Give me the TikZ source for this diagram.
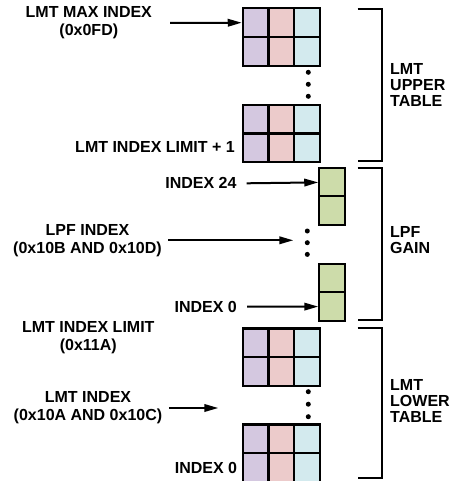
\documentclass[tikz,border=0pt]{standalone}
\usepackage{fontspec}
\setmainfont{Liberation Sans}
\usetikzlibrary{arrows.meta}

\definecolor{lmtpurple}{RGB}{212,200,224}
\definecolor{lmtpink}{RGB}{236,203,203}
\definecolor{lmtcyan}{RGB}{211,234,238}
\definecolor{lpfgreen}{RGB}{205,220,170}

\tikzset{
  cell/.style={draw, line width=2.2pt, minimum width=25.7pt, minimum height=28.6pt, inner sep=0pt},
  lbl/.style={font=\fontsize{16}{18}\selectfont\bfseries, align=center, inner sep=0pt},
  tbl/.style={font=\fontsize{16}{16}\selectfont\bfseries, align=left, inner sep=0pt, anchor=west},
  ptr/.style={line width=2pt, -{Triangle[length=14pt,width=7.5pt]}},
  brk/.style={line width=2pt},
  dotmark/.style={circle, fill, inner sep=0pt, minimum size=5pt}
}

% one LMT block: name, top edge
\newcommand{\lmtblock}[2]{%
  \foreach \cx/\clr [count=\i] in {255.7/lmtpurple,281.5/lmtpink,307.2/lmtcyan}{
    \node[cell, fill=\clr] (#1-\i-1) at (\cx,{#2+14.3}) {};
    \node[cell, fill=\clr] (#1-\i-2) at (\cx,{#2+43}) {};
  }}
% one LPF block: name, top edge
\newcommand{\lpfblock}[2]{%
  \node[cell, fill=lpfgreen] (#1-1) at (332.2,{#2+14}) {};
  \node[cell, fill=lpfgreen] (#1-2) at (332.2,{#2+42}) {};}
% three dots: name, x, first y, step
\newcommand{\vdotsat}[4]{%
  \foreach \k in {0,1,2}
    \node[dotmark] (#1-\k) at (#2,{#3+\k*#4}) {};}

\begin{document}
\begin{tikzpicture}[x=1pt,y=-1pt]
  \useasboundingbox (0,0) rectangle (449,481);

  % LMT upper table
  \lmtblock{up1}{8.4}
  \lmtblock{up2}{105}
  \vdotsat{updots}{308.3}{72.3}{12}
  % LPF gain
  \lpfblock{g1}{168.4}
  \lpfblock{g2}{264.6}
  \vdotsat{gdots}{307.3}{231}{11.7}
  % LMT lower table
  \lmtblock{lo1}{328.4}
  \lmtblock{lo2}{424.4}
  \vdotsat{lodots}{308.3}{391.7}{12.5}

  % left labels
  \node[lbl] (maxidx) at (88.8,23) {LMT MAX INDEX\\(0x0FD)};
  \node[lbl, anchor=east] (limp1) at (235,146.7) {LMT INDEX LIMIT + 1};
  \node[lbl, anchor=east] (idx24) at (236.7,183.3) {INDEX 24};
  \node[lbl] (lpfidx) at (87.5,240.3) {LPF INDEX\\(0x10B AND 0x10D)};
  \node[lbl, anchor=east] (gidx0) at (237,306.7) {INDEX 0};
  \node[lbl] (limit) at (88.3,338) {LMT INDEX LIMIT\\(0x11A)};
  \node[lbl] (lmtidx) at (88,408) {LMT INDEX\\(0x10A AND 0x10C)};
  \node[lbl, anchor=east] (loidx0) at (237.3,468.3) {INDEX 0};

  % arrows
  \coordinate (lpfend) at (293.3,240.3);
  \coordinate (lmtend) at (218.3,408);
  \draw[ptr] ([xshift=18pt]maxidx.east) -- (up1-1-1.west);
  \draw[ptr] ([xshift=10pt]idx24.east) -- (g1-1.west);
  \draw[ptr] ([xshift=6.5pt]lpfidx.east) -- (lpfend);
  \draw[ptr] ([xshift=10pt]gidx0.east) -- (g2-2.west);
  \draw[ptr] ([xshift=6.5pt]lmtidx.east) -- (lmtend);

  % brackets
  \draw[brk] (357.7,9.3) -- (381.7,9.3) -- (381.7,161) -- (357.7,161);
  \draw[brk] (357.7,168.3) -- (381.7,168.3) -- (381.7,320) -- (357.7,320);
  \draw[brk] (357.7,328.3) -- (381.7,328.3) -- (381.7,478.3) -- (357.7,478.3);

  % right labels
  \node[tbl] (uptbl) at (390,84.5) {LMT\\UPPER\\TABLE};
  \node[tbl] (lpfgain) at (390,239.7) {LPF\\GAIN};
  \node[tbl] (lotbl) at (390,400.5) {LMT\\LOWER\\TABLE};
\end{tikzpicture}
\end{document}
